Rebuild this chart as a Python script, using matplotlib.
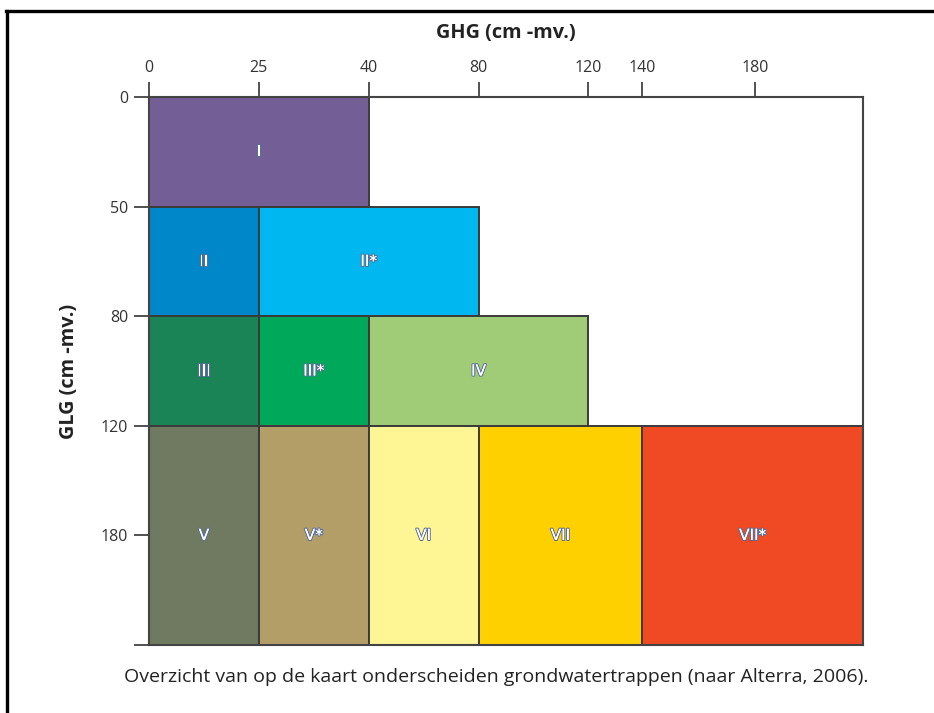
import matplotlib
matplotlib.use("Agg")
import matplotlib.pyplot as plt
import numpy as np
from matplotlib.patches import Rectangle
from matplotlib.lines import Line2D
import matplotlib.patheffects as pe

# ---- data ----
ghg_ticks = [0, 25, 40, 80, 120, 140, 180]
glg_ticks = [0, 50, 80, 120, 180]
ghg_end = 220
glg_end = 240

# classes: name, ghg_from, ghg_to, glg_from, glg_to
labels = ["I", "II", "II*", "III", "III*", "IV", "V", "V*", "VI", "VII", "VII*"]
ghg_from = [0, 0, 25, 0, 25, 40, 0, 25, 40, 80, 140]
ghg_to = [40, 25, 80, 25, 40, 120, 25, 40, 80, 140, 220]
glg_from = [0, 50, 50, 80, 80, 80, 120, 120, 120, 120, 120]
glg_to = [50, 80, 80, 120, 120, 120, 240, 240, 240, 240, 240]
colors = ["#735f96", "#0087c9", "#00b7ef", "#1a8457", "#00a859", "#a0cc78",
          "#707a60", "#b39e68", "#fef594", "#ffd000", "#ef4a23"]

# piecewise scale breakpoints (as drawn: non-linear class scale)
x_vals = [0, 25, 40, 80, 120, 140, 180, 220]
x_pos = [0, 1, 2, 3, 4, 4.49, 5.52, 6.5]
y_vals = [0, 50, 80, 120, 180, 240]
y_pos = [0, 1, 2, 3, 4, 5]


def fwd_x(v):
    return np.interp(v, x_vals, x_pos)


def inv_x(p):
    return np.interp(p, x_pos, x_vals)


def fwd_y(v):
    return np.interp(v, y_vals, y_pos)


def inv_y(p):
    return np.interp(p, y_pos, y_vals)


fig = plt.figure(figsize=(9.34, 7.13), dpi=100)
ax = fig.add_axes([149 / 934, 1 - 645 / 713, (863 - 149) / 934, (645 - 97) / 713])
ax.set_xscale("function", functions=(fwd_x, inv_x))
ax.set_yscale("function", functions=(fwd_y, inv_y))
ax.set_xlim(0, ghg_end)
ax.set_ylim(glg_end, 0)

edge = "#3a3a3a"
for lab, x0, x1, y0, y1, c in zip(labels, ghg_from, ghg_to, glg_from, glg_to, colors):
    ax.add_patch(Rectangle((x0, y0), x1 - x0, y1 - y0, facecolor=c,
                           edgecolor=edge, linewidth=1.4, zorder=2))
    xm = inv_x((fwd_x(x0) + fwd_x(x1)) / 2)
    ym = inv_y((fwd_y(y0) + fwd_y(y1)) / 2)
    t = ax.text(xm, ym, lab, ha="center", va="center", color="white",
                fontsize=11, fontfamily="DejaVu Sans", zorder=3)
    t.set_path_effects([pe.withStroke(linewidth=1.6, foreground="#5a6f99"),
                        pe.Normal()])

ax.xaxis.tick_top()
ax.xaxis.set_label_position("top")
ax.set_xticks(ghg_ticks)
ax.set_xticklabels([str(v) for v in ghg_ticks])
ax.set_yticks(glg_ticks + [glg_end])
ax.set_yticklabels([str(v) for v in glg_ticks] + [""])
ax.tick_params(axis="both", direction="out", length=11, width=1.2,
               color="#333333", labelsize=11.5, labelcolor="#333333", pad=4)
for lab in ax.get_xticklabels() + ax.get_yticklabels():
    lab.set_fontfamily("Open Sans")

for s in ax.spines.values():
    s.set_color("#444444")
    s.set_linewidth(1.5)

ax.set_xlabel("GHG (cm -mv.)", fontsize=14.3, fontweight="bold",
              fontfamily="Open Sans", color="#222222", labelpad=16)
ax.set_ylabel("GLG (cm -mv.)", fontsize=14.3, fontweight="bold",
              fontfamily="Open Sans", color="#222222", labelpad=16)

fig.text(496 / 934, 1 - 677 / 713,
         "Overzicht van op de kaart onderscheiden grondwatertrappen (naar Alterra, 2006).",
         ha="center", va="center", fontsize=14, fontfamily="Open Sans",
         color="#222222")

# outer frame lines (top and left)
fig.add_artist(Line2D([6 / 934, 1.0], [1 - 11 / 713, 1 - 11 / 713],
                      transform=fig.transFigure, color="black", linewidth=2.4))
fig.add_artist(Line2D([7 / 934, 7 / 934], [0, 1 - 11 / 713],
                      transform=fig.transFigure, color="black", linewidth=2.4))

fig.savefig("out.png", dpi=100)
